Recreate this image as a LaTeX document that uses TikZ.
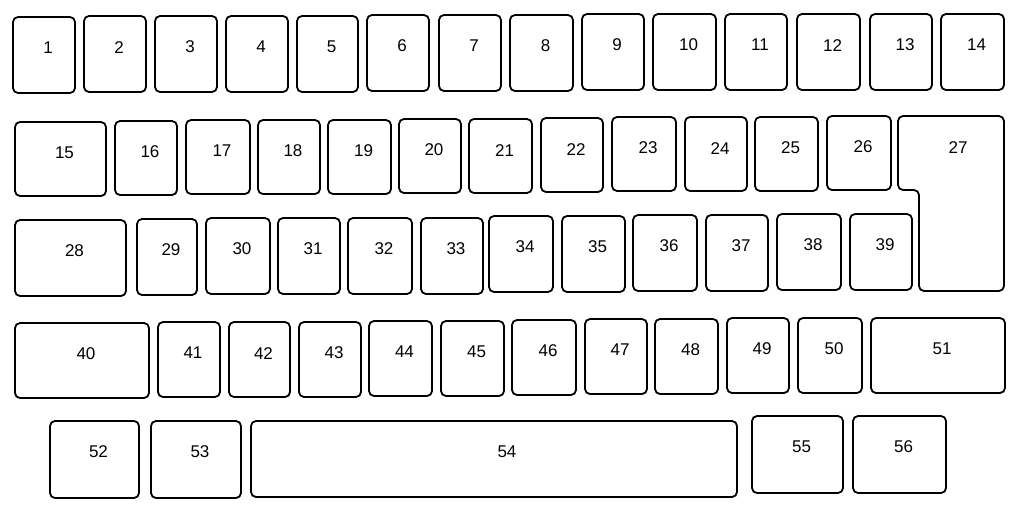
\documentclass[tikz,border=0pt]{standalone}
\usepackage{fontspec}
\setmainfont{Liberation Sans}
\usetikzlibrary{fit}

\begin{document}
\begin{tikzpicture}[
    x=0.5pt, y=-0.5pt,
    key/.style={draw, line width=0.9pt, rounded corners=2.5pt, inner sep=0pt},
    keynum/.style={font=\fontsize{8.5}{10}\selectfont, anchor=center, xshift=2pt, yshift=-16pt}
]
\useasboundingbox (0,0) rectangle (1024,515);

% top row
\foreach \n/\xa/\xb/\ya in {1/13/75/17, 2/84/146/16, 3/155/217/16, 4/226/288/16,
    5/297/358/16, 6/367/429/15, 7/439/501/15, 8/510/573/15, 9/582/644/14,
    10/653/716/14, 11/725/787/14, 12/797/860/14, 13/870/932/14, 14/941/1004/14}
  \node[key, fit={(\xa,\ya) (\xb,\ya+76)}, label={[keynum]north:\n}] (k\n) {};

% second row
\foreach \n/\xa/\xb/\ya in {15/15/106/122, 16/115/177/121, 17/186/250/120,
    18/258/320/120, 19/328/391/120, 20/399/461/119, 21/469/532/119,
    22/541/603/118, 23/612/676/117, 24/685/747/117, 25/755/818/117, 26/827/891/116}
  \node[key, fit={(\xa,\ya) (\xb,\ya+74)}, label={[keynum]north:\n}] (k\n) {};

% the tall key
\draw[key] (898,116) -- (1004,116) -- (1004,291) -- (919,291) -- (919,190)
  -- (898,190) -- cycle;
\node[keynum, xshift=-2pt, yshift=16pt] (k27) at (958,148) {27};

% third row
\foreach \n/\xa/\xb/\ya in {28/15/126/220, 29/137/197/219, 30/206/270/218,
    31/278/340/218, 32/348/412/218, 33/421/483/218, 34/489/553/216,
    35/562/625/216, 36/633/697/215, 37/706/768/215, 38/777/841/214, 39/850/912/214}
  \node[key, fit={(\xa,\ya) (\xb,\ya+76)}, label={[keynum]north:\n}] (k\n) {};

% fourth row
\foreach \n/\xa/\xb/\ya in {40/15/149/323, 41/158/220/322, 42/229/290/322,
    43/299/361/322, 44/369/432/321, 45/441/504/321, 46/512/576/320,
    47/585/647/319, 48/655/718/319, 49/727/789/318, 50/798/862/318, 51/871/1005/318}
  \node[key, fit={(\xa,\ya) (\xb,\ya+75)}, label={[keynum]north:\n}] (k\n) {};

% bottom row
\foreach \n/\xa/\xb/\ya in {52/50/139/421, 53/151/241/421,
    55/752/843/416, 56/853/946/416}
  \node[key, fit={(\xa,\ya) (\xb,\ya+77)}, label={[keynum]north:\n}] (k\n) {};
\node[key, fit={(251,421) (737,497)}, label={[keynum, xshift=4.5pt]north:54}] (k54) {};

\end{tikzpicture}
\end{document}
